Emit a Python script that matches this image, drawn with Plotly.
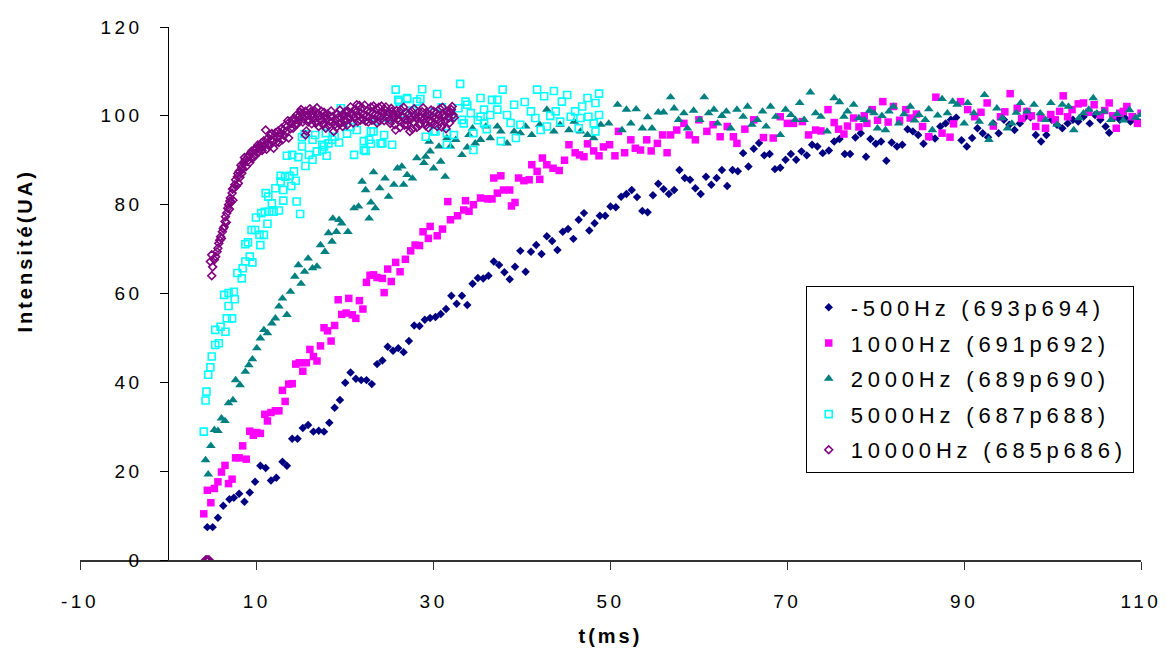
import plotly.graph_objects as go

# ---------------- data ----------------
names = ["-500Hz (693p694)", "1000Hz (691p692)", "2000Hz (689p690)",
         "5000Hz (687p688)", "10000Hz (685p686)"]

s500 = [(4.4,7.4),(5.0,7.4),(5.6,9.5),(6.2,12.2),(6.9,13.7),(7.4,14.0),(8.0,14.9),(8.6,13.1),(9.2,15.2),(9.8,17.6),
        (10.4,21.2),(11.0,20.7),(11.6,17.9),(12.2,18.5),(12.9,22.1),(13.4,21.2),(14.0,27.3),(14.6,27.3),(15.2,29.7),(15.8,30.4),
        (16.4,28.9),(17.0,29.1),(17.6,28.9),(18.2,30.9),(18.8,34.3),(19.4,36.0),(20.0,39.9),(20.6,42.2),(21.2,40.8),(21.8,40.5),
        (22.4,40.5),(23.0,39.6),(23.6,44.1),(24.2,44.9),(24.8,48.0),(25.4,47.1),(26.0,47.7),(26.6,46.8),(27.2,49.3),(27.8,52.8),
        (28.4,52.7),(29.0,54.1),(29.6,54.5),(30.2,54.7),(30.8,55.4),(31.4,56.5),(32.0,59.5),(32.6,57.7),(33.2,59.5),(33.8,57.4),
        (34.4,62.2),(35.0,63.5),(35.6,63.4),(36.2,64.0),(36.8,67.2),(37.4,66.4),(38.0,64.8),(38.6,63.2),(39.2,66.0),(39.8,69.6),
        (40.4,64.9),(41.0,69.4),(41.6,70.9),(42.2,68.9),(42.8,72.9),(43.4,71.8),(44.0,69.8),(44.6,73.9),(45.2,74.5),(45.8,72.3),
        (46.4,76.6),(47.0,78.1),(47.6,74.2),(48.2,75.8),(48.8,77.5),(49.4,77.5),(50.0,79.6),(50.6,79.4),(51.2,81.8),(51.8,82.4),
        (52.4,83.3),(53.0,81.7),(53.6,78.6),(54.2,78.3),(54.8,82.1),(55.4,84.7),(56.0,83.5),(56.6,82.4),(57.2,83.3),(57.8,87.8),
        (58.4,86.0),(59.0,85.6),(59.6,83.7),(60.2,82.4),(60.8,86.3),(61.4,84.5),(62.0,86.0),(62.6,87.8),(63.2,84.2),(63.8,87.8),
        (64.4,87.5),(65.0,91.6),(65.6,88.6),(66.2,92.6),(66.8,93.9),(67.4,91.1),(68.0,91.4),(68.6,88.0),(69.2,88.3),(69.8,90.1),
        (70.4,91.4),(71.0,90.1),(71.6,92.0),(72.2,91.1),(72.8,93.5),(73.4,93.1),(74.0,91.6),(74.7,92.2),(75.3,94.2),(75.9,94.8),
        (76.5,91.4),(77.1,91.4),(77.7,95.1),(78.3,96.1),(78.9,90.8),(79.4,94.8),(80.0,93.7),(80.6,94.2),(81.2,89.9),(81.8,94.0),
        (82.4,93.1),(83.0,93.5),(83.6,97.0),(84.2,96.5),(84.8,95.7),(85.4,93.7),(86.1,95.3),(86.7,94.9),(87.3,97.6),(87.9,98.3),
        (88.5,99.1),(89.1,99.6),(89.7,94.5),(90.3,93.1),(90.9,95.0),(91.5,97.2),(92.1,96.1),(92.7,95.2),(93.3,98.3),(93.9,96.1),
        (94.5,99.1),(95.1,98.0),(95.7,96.8),(96.3,98.3),(96.9,99.8),(97.5,99.7),(98.1,95.7),(98.7,94.2),(99.3,95.7),(99.9,99.1),
        (100.5,98.0),(101.1,97.2),(101.7,98.3),(102.3,99.1),(102.9,98.7),(103.5,99.8),(104.2,98.3),(104.8,100.2),(105.4,99.1),(106.0,97.6),
        (106.4,96.2),(107.0,99.7),(107.6,99.1),(108.2,99.5),(108.8,98.7),(109.4,99.1),(110.0,98.5)]

s1000 = [(4.0,10.4),(4.4,15.7),(4.8,12.9),(5.2,16.1),(5.6,17.6),(6.0,19.8),(6.4,21.3),(6.8,17.2),(7.2,18.2),(7.6,23.0),
         (8.0,23.0),(8.4,25.7),(8.8,22.7),(9.2,29.0),(9.6,28.1),(10.0,28.7),(10.4,28.5),(10.9,32.8),(11.2,31.3),(11.6,33.2),
         (12.1,33.6),(12.5,33.6),(12.9,38.2),(13.2,35.7),(13.6,39.6),(14.0,39.7),(14.4,44.1),(14.8,44.4),(15.2,42.5),(15.6,44.4),
         (16.0,47.4),(16.4,45.8),(16.8,44.8),(17.2,48.2),(17.6,52.3),(18.0,51.6),(18.4,49.3),(18.8,52.8),(19.2,58.6),(19.6,55.3),
         (20.1,55.6),(20.4,58.9),(20.8,55.2),(21.2,54.4),(21.6,58.4),(22.0,56.5),(22.4,62.5),(22.8,64.1),(23.2,64.2),(23.6,63.6),
         (24.2,63.4),(24.4,60.2),(24.8,65.5),(25.2,62.7),(25.7,67.0),(26.2,64.9),(26.8,67.7),(27.4,69.6),(27.9,70.9),(28.4,70.8),
         (28.8,73.9),(29.4,72.4),(29.6,75.1),(30.4,73.0),(31.0,74.5),(31.6,80.7),(31.9,76.6),(32.7,77.5),(33.4,78.8),(33.6,80.9),
         (34.0,78.5),(34.5,80.0),(35.3,81.5),(36.1,81.3),(36.6,81.3),(36.8,86.0),(37.2,82.6),(37.6,86.5),(37.9,83.3),(38.6,83.3),
         (38.8,79.7),(39.2,80.5),(39.6,86.0),(40.2,85.4),(40.8,85.6),(41.1,89.0),(41.7,87.5),(42.0,85.7),(42.3,90.5),(42.8,89.0),
         (43.5,88.2),(44.2,87.7),(44.8,90.0),(45.3,93.5),(46.0,91.7),(46.5,91.2),(47.0,90.8),(47.4,93.7),(48.1,92.1),(48.7,91.0),
         (49.2,93.0),(49.9,93.5),(50.5,91.0),(50.9,96.5),(51.6,91.7),(52.3,94.6),(52.8,92.7),(53.4,92.3),(54.1,94.6),(54.6,92.1),
         (55.3,93.8),(55.9,95.7),(56.4,91.7),(56.8,95.7),(57.5,96.8),(58.3,98.3),(58.9,95.7),(59.6,94.6),(60.0,99.1),(60.9,96.5),
         (61.6,98.0),(62.4,95.3),(63.2,97.6),(63.9,95.3),(64.3,93.8),(65.2,97.0),(66.2,99.1),(67.3,95.1),(68.4,95.0),(69.2,99.8),
         (70.0,98.3),(70.7,98.3),(71.7,98.7),(72.4,95.7),(73.2,96.8),(73.8,96.6),(74.6,101.4),(75.3,98.5),(75.8,97.0),(76.4,95.9),
         (76.8,97.7),(77.5,99.5),(78.1,97.5),(78.7,100.0),(79.0,98.3),(79.6,101.4),(80.2,99.0),(80.8,103.2),(81.4,98.6),(82.0,102.1),
         (82.7,99.0),(83.4,101.4),(83.9,99.5),(84.6,100.4),(85.3,97.6),(86.0,95.3),(86.8,104.2),(87.5,96.1),(88.4,95.2),(88.8,98.2),
         (89.6,103.2),(90.4,101.4),(91.2,99.8),(91.9,100.8),(92.6,102.9),(93.3,97.7),(94.1,99.8),(94.6,100.9),(95.2,105.0),(96.0,101.7),
         (96.5,99.4),(97.1,101.0),(97.6,100.0),(98.1,97.6),(98.7,99.5),(99.2,97.2),(99.8,100.3),(100.3,99.1),(100.8,101.0),(101.2,104.5),
         (101.7,99.8),(102.2,101.4),(102.9,102.7),(103.5,102.9),(104.1,100.8),(104.7,102.5),(105.4,100.2),(105.9,101.2),(106.4,102.9),(106.8,100.0),
         (107.2,97.2),(107.6,100.6),(108.0,101.0),(108.4,102.1),(109.0,99.8),(109.6,98.3),(110.0,100.6)]

s2000 = [(4.2,22.5),(4.5,19.3),(4.8,25.7),(5.2,29.3),(5.6,29.1),(6.0,31.9),(6.4,31.3),(6.8,35.3),(7.3,36.0),(7.6,40.5),
         (8.1,39.4),(8.7,42.4),(9.1,43.9),(9.5,45.2),(10.0,47.7),(10.4,49.9),(10.8,51.8),(11.2,51.1),(11.7,53.3),(12.1,54.4),
         (12.5,57.1),(12.9,58.9),(13.4,55.2),(13.8,60.4),(14.3,63.8),(14.7,66.4),(15.0,62.2),(15.4,64.9),(15.8,67.9),(16.3,65.7),
         (16.8,66.1),(17.2,70.9),(17.7,69.4),(18.1,73.6),(18.5,71.7),(18.6,76.9),(19.0,73.9),(19.3,76.6),(19.6,75.8),(20.3,73.9),
         (21.0,79.2),(21.5,79.6),(21.9,85.2),(22.3,83.3),(22.7,76.9),(22.9,80.5),(23.2,87.3),(23.4,79.2),(23.9,83.7),(24.5,85.9),
         (24.9,81.8),(25.5,84.5),(25.9,88.2),(26.4,88.6),(26.6,84.5),(27.0,86.7),(27.6,85.9),(28.1,90.5),(28.9,89.4),(29.1,90.8),
         (29.5,94.2),(29.6,92.0),(30.0,88.2),(30.6,93.1),(30.8,89.7),(31.3,86.3),(31.5,95.0),(31.9,93.1),(32.5,94.6),(33.2,91.2),
         (33.8,92.9),(34.0,95.7),(34.4,97.2),(34.7,93.8),(35.3,94.6),(35.9,97.6),(36.4,95.0),(37.2,97.6),(37.6,96.5),(38.3,93.8),
         (39.1,96.5),(39.8,96.1),(40.4,97.6),(41.1,95.7),(42.0,98.0),(42.8,101.4),(43.6,96.5),(44.3,98.0),(45.3,96.8),(45.9,98.7),
         (46.6,96.5),(47.4,95.7),(48.1,95.0),(48.9,98.0),(49.8,98.3),(50.8,102.5),(51.3,96.8),(51.8,101.4),(52.3,98.3),(52.9,101.5),
         (53.6,97.2),(54.2,99.7),(54.7,97.2),(55.4,100.8),(56.0,100.8),(56.8,104.2),(57.2,101.7),(57.7,99.1),(58.3,100.6),(58.7,97.2),
         (59.4,101.2),(60.1,99.1),(60.6,104.2),(61.1,100.6),(61.7,101.4),(62.1,98.3),(62.6,100.0),(63.1,101.0),(63.6,97.2),(64.3,101.4),
         (65.0,99.8),(65.5,102.1),(66.0,98.0),(66.6,99.1),(67.2,101.0),(67.6,97.6),(68.1,102.1),(68.7,99.8),(69.2,95.7),(69.8,101.4),
         (70.4,100.2),(70.9,99.1),(71.4,102.9),(71.9,99.1),(72.6,105.3),(73.2,100.6),(73.8,99.8),(74.5,96.5),(75.3,104.0),(75.9,103.1),
         (76.4,99.8),(76.8,101.0),(77.5,102.5),(78.1,99.5),(78.7,99.1),(79.3,101.2),(79.8,100.6),(80.2,97.2),(80.7,100.0),(81.1,96.8),
         (81.5,101.0),(82.0,102.1),(82.6,98.3),(83.2,100.4),(83.9,102.1),(84.4,99.0),(84.9,100.2),(85.6,99.1),(86.0,101.5),(86.4,96.8),
         (87.0,100.1),(87.5,103.8),(88.1,100.6),(88.7,103.2),(89.2,102.5),(90.0,98.3),(90.4,102.9),(91.1,100.6),(91.7,98.7),(92.3,104.7),
         (92.8,94.6),(93.2,98.3),(93.7,101.7),(94.3,99.5),(94.9,97.2),(95.4,98.3),(95.9,100.7),(96.4,102.9),(97.1,101.0),(97.9,102.5),
         (98.6,100.6),(99.2,99.1),(99.8,102.9),(100.5,98.0),(101.1,102.5),(101.8,102.1),(102.4,96.8),(103.0,99.5),(103.5,100.6),(104.1,101.4),
         (104.6,104.0),(105.0,100.6),(105.8,101.0),(106.6,99.1),(107.3,100.4),(108.0,99.0),(108.7,101.3),(109.4,99.6),(110.0,100.2)]

s5000 = [(4.0,28.9),(4.2,35.9),(4.3,37.9),(4.5,41.7),(4.75,43.4),(4.9,45.8),(5.3,48.4),(5.3,51.8),(5.7,48.8),(5.9,52.5),
         (6.3,59.7),(6.45,51.4),(6.6,54.4),(6.8,60.1),(6.8,57.2),(7.2,54.4),(7.4,60.4),(7.5,58.7),(7.8,64.6),(8.3,63.4),
         (8.4,65.7),(8.7,67.2),(8.7,71.1),(9.0,71.5),(9.2,68.3),(9.4,74.3),(9.5,67.0),(9.8,74.3),(9.9,77.1),(10.3,73.2),
         (10.4,70.9),(10.5,78.1),(10.8,73.2),(10.9,78.4),(11.0,82.6),(11.2,75.7),(11.3,81.8),(11.4,78.4),(11.7,80.3),(11.9,78.4),
         (12.1,83.7),(12.5,78.7),(12.7,85.2),(12.7,86.5),(13.0,83.3),(13.0,80.9),(13.2,86.3),(13.4,91.0),(13.7,86.5),(13.9,84.2),
         (14.0,91.2),(14.2,87.5),(14.4,85.4),(14.5,80.7),(14.7,90.7),(14.9,77.9),(15.1,93.1),(15.1,95.2),(15.4,95.9),(15.5,88.7),
         (15.9,91.2),(16.3,90.1),(16.3,94.6),(16.6,95.7),(16.8,92.0),(17.4,92.3),(17.4,93.5),(17.6,93.1),(17.8,96.1),(17.9,91.0),
         (18.1,93.8),(18.5,94.6),(18.8,95.3),(19.3,94.0),(19.5,101.7),(20.2,96.0),(20.6,97.5),(21.0,91.2),(21.3,96.8),(22.1,94.3),
         (22.1,92.3),(22.3,92.1),(22.7,94.6),(22.9,93.7),(22.9,96.5),(23.2,96.5),(23.6,98.9),(24.0,93.8),(24.2,93.8),(24.4,95.7),
         (24.8,99.5),(25.3,93.5),(25.7,105.9),(26.0,103.6),(26.1,103.2),(26.5,100.5),(27.0,104.0),(27.0,103.8),(27.6,101.2),(28.1,103.2),
         (28.5,103.8),(28.7,106.0),(29.1,95.3),(29.6,100.8),(30.0,96.5),(30.2,96.5),(30.4,104.9),(30.9,101.9),(31.5,96.1),(31.5,93.5),
         (32.0,99.6),(32.3,95.7),(32.8,101.7),(33.0,107.2),(33.2,99.1),(33.4,98.3),(33.6,103.2),(33.8,102.5),(34.2,100.6),(34.5,92.3),
         (34.5,96.1),(35.0,99.0),(35.3,99.8),(35.3,104.0),(35.7,98.3),(35.7,101.4),(36.0,97.0),(36.4,100.2),(36.6,103.6),(37.2,101.4),
         (37.2,103.6),(37.6,94.3),(37.8,105.9),(38.3,100.2),(38.7,98.4),(39.1,102.5),(39.3,95.0),(39.8,98.0),(40.3,103.1),(41.0,101.0),
         (41.5,99.5),(41.7,105.9),(42.1,96.8),(42.5,104.4),(42.8,97.6),(43.2,100.0),(43.6,105.6),(43.8,101.0),(44.3,98.7),(44.5,103.2),
         (45.1,104.7),(45.5,99.8),(46.0,101.0),(46.4,97.2),(46.6,99.5),(46.8,102.1),(47.4,104.0),(47.5,99.8),(48.1,98.3),(48.3,96.5),
         (48.3,102.9),(48.7,100.2),(48.7,105.0)]

s10000 = [(4.2,0.0),(4.3,0.0),(4.4,0.0),(4.5,0.0),(4.6,0.0),
          (4.9,64.0),(4.75,67.2),(4.9,68.7),(5.0,66.0),(5.2,67.6),(5.35,68.3),(5.5,69.4),(5.6,70.2),(5.7,71.3),(5.8,72.0),
          (5.9,72.8),(6.0,72.4),(6.1,73.9),(6.2,74.6),(6.3,75.0),(6.4,76.2),(6.45,77.3),(6.55,76.0),(6.6,78.1),(6.7,79.2),
          (6.8,80.0),(6.9,79.0),(6.95,80.8),(7.0,81.5),(7.1,80.6),(7.2,82.6),(7.25,83.5),(7.3,81.0),(7.4,83.7),(7.5,84.5),
          (7.6,85.6),(7.7,84.2),(7.8,86.3),(7.85,87.0),(7.9,84.8),(8.0,87.5),(8.1,86.2),(8.2,88.9),(8.3,87.1),(8.3,88.4),
          (8.4,88.0),(8.5,89.3),(8.6,90.6),(8.7,90.1),(8.8,88.6),(8.9,89.7),(9.0,90.7),(9.1,91.2),(9.2,89.5),(9.3,91.6),
          (9.4,92.0),(9.5,90.4),(9.6,90.8),(9.65,92.3),(9.8,91.0),(9.9,92.5),(10.0,92.7),(10.1,93.4),(10.2,91.8),(10.3,92.4),
          (10.4,93.1),(10.5,93.9),(10.6,92.2),(10.7,93.0),(10.8,94.4),(10.9,93.5),(11.0,96.8),(11.1,92.5),(11.2,94.8),(11.35,93.8),
          (11.4,93.2),(11.5,95.6),(11.6,94.6),(11.7,96.0),(11.8,94.2),(11.9,92.7),(12.0,95.4),(12.1,96.2),(12.2,94.0),(12.3,95.0),
          (12.4,96.6),(12.5,94.0),(12.6,95.4),(12.7,96.1),(12.8,97.2),(12.9,94.6),(13.0,96.8),(13.1,95.6),(13.2,97.9),(13.3,96.4),
          (13.4,97.6),(13.5,98.9),(13.6,95.0),(13.7,98.6),(13.8,97.1),(13.9,98.3),(14.0,99.0),(14.1,97.2),(14.2,99.5),(14.3,98.0),
          (14.4,99.1),(14.5,100.2),(14.6,98.2),(14.7,99.8),(14.8,99.0),(14.9,100.8),(15.0,101.4),(15.1,100.6),(15.2,98.6),(15.3,99.3),
          (15.4,100.2),(15.5,101.0),(15.5,95.7),(15.6,96.6),
          (15.7,100.2),(15.8,98.6),(15.9,99.0),(16.0,101.6),(16.1,100.9),(16.2,98.2),(16.3,99.6),(16.4,100.3),(16.5,101.2),(16.6,99.4),
          (16.7,98.4),(16.8,101.8),(16.9,100.5),(17.0,97.6),(17.1,99.2),(17.2,100.0),(17.3,101.0),(17.4,99.0),(17.5,98.0),(17.6,100.8),
          (17.7,100.1),(17.8,97.2),(17.9,99.4),(18.0,100.4),(18.1,97.8),(18.2,98.8),(18.3,99.9),(18.4,101.1),(18.5,98.6),(18.6,99.8),
          (18.7,96.5),(18.8,98.0),(18.9,99.1),(19.0,97.4),(19.1,100.4),(19.2,99.6),(19.3,98.2),(19.4,101.3),(19.5,99.6),(19.6,98.5),
          (19.7,97.6),(19.8,99.9),(19.9,100.2),(20.0,100.9),(20.1,98.9),(20.2,97.9),(20.3,101.0),(20.4,99.8),(20.5,99.3),(20.6,102.0),
          (20.7,100.7),(20.8,100.1),(20.9,98.4),(21.0,99.6),(21.1,101.5),(21.2,100.8),(21.3,102.5),(21.4,98.7),(21.5,100.0),(21.6,102.3),
          (21.7,99.0),(21.8,100.6),(21.9,101.8),(22.0,99.3),(22.1,100.3),(22.2,102.4),(22.3,98.8),(22.4,100.0),(22.5,101.1),(22.6,98.6),
          (22.7,99.6),(22.8,100.9),(22.9,102.0),(23.0,99.0),(23.1,100.6),(23.2,102.2),(23.3,99.2),(23.4,100.3),(23.5,101.6),(23.6,98.4),
          (23.7,100.1),(23.8,101.9),(23.9,98.9),(24.0,99.9),(24.1,102.2),(24.2,101.0),(24.3,100.4),(24.4,98.9),(24.5,101.3),(24.6,102.0),
          (24.7,99.5),(24.8,100.2),(24.9,100.8),(25.0,99.1),(25.1,98.3),(25.2,101.7),(25.3,101.0),(25.4,100.5),(25.5,99.8),(25.6,98.0),
          (25.7,96.8),(25.8,101.2),(25.9,100.3),(26.0,99.4),(26.1,98.9),(26.2,97.4),(26.3,101.4),(26.4,100.0),(26.5,99.6),(26.6,101.9),
          (26.7,97.9),(26.8,99.1),(26.9,100.7),(27.0,98.0),(27.1,99.0),(27.2,100.4),(27.3,96.5),(27.4,99.2),(27.5,101.1),(27.6,97.0),
          (27.7,98.6),(27.8,101.6),(27.9,100.2),(28.0,99.5),(28.1,97.4),(28.2,100.7),(28.3,99.8),(28.4,97.9),(28.5,98.2),(28.6,99.7),
          (28.7,100.9),(28.8,101.8),(28.9,99.3),(29.0,98.4),(29.1,97.8),(29.2,99.9),(29.3,100.5),(29.4,97.3),(29.5,98.9),(29.6,100.2),
          (29.7,101.3),(29.8,98.7),(29.9,99.7),(30.0,101.0),(30.1,98.1),(30.2,99.4),(30.3,100.6),(30.4,97.6),(30.5,99.2),(30.6,100.1),
          (30.7,101.6),(30.8,98.6),(30.9,97.5),(31.0,101.9),(31.1,100.3),(31.2,99.8),(31.3,98.8),(31.4,97.1),(31.5,101.0),(31.6,100.6),
          (31.7,99.5),(31.8,98.4),(31.9,100.8),(32.0,101.4),(32.1,102.1),(32.2,100.2),(32.3,99.6)]

x_ticks = [-10, 10, 30, 50, 70, 90, 110]
y_ticks = [0, 20, 40, 60, 80, 100, 120]

# ---------------- styles ----------------
FONT = "Liberation Sans, Arial, Helvetica, sans-serif"
styles = [
    dict(symbol="diamond", size=6.5, color="#000080"),
    dict(symbol="square", size=7.5, color="#FF00FF"),
    dict(symbol="triangle-up", size=8.5, color="#008080"),
    dict(symbol="square-open", size=7, color="#00FFFF", line=dict(width=1.6, color="#00FFFF")),
    dict(symbol="diamond-open", size=6, color="#800080", line=dict(width=1.6, color="#800080")),
]

fig = go.Figure()
for name, series, st in zip(names, [s500, s1000, s2000, s5000, s10000], styles):
    xs = [p[0] for p in series]
    ys = [p[1] for p in series]
    mk = dict(st)
    if "line" not in mk:
        mk["line"] = dict(width=0)
    fig.add_trace(go.Scatter(x=xs, y=ys, mode="markers", name=name,
                             legendgroup=name, marker=mk))

fig.update_layout(
    width=1166, height=649,
    margin=dict(l=80, r=25, t=27, b=89, autoexpand=False),
    paper_bgcolor="white", plot_bgcolor="white",
    font=dict(family=FONT, color="black"),
    showlegend=True,
    legend=dict(x=0.684, y=0.515, xanchor="left", yanchor="top",
                bgcolor="white", bordercolor="black", borderwidth=1,
                font=dict(family=FONT, size=22, color="black"),
                tracegroupgap=4, itemwidth=34),
    xaxis=dict(range=[-10, 110], tickmode="array", tickvals=x_ticks,
               ticktext=[str(v) for v in x_ticks], automargin=False,
               showgrid=False, zeroline=False, showline=True,
               linecolor="#333333", linewidth=1.5,
               ticks="outside", ticklen=8, tickcolor="#333333", tickwidth=1,
               tickfont=dict(family=FONT, size=19, color="black"),
               ticklabelstandoff=16),
    yaxis=dict(range=[0, 120], tickmode="array", tickvals=y_ticks,
               ticktext=[str(v) for v in y_ticks], automargin=False,
               anchor="free", position=10/120,
               showgrid=False, zeroline=False, showline=True,
               linecolor="black", linewidth=1,
               ticks="outside", ticklen=8, tickcolor="black", tickwidth=1,
               tickfont=dict(family=FONT, size=19, color="black"),
               ticklabelstandoff=14),
    annotations=[
        dict(text="<b>t(ms)</b>", xref="paper", yref="paper", x=0.5, y=-0.1426,
             xanchor="center", yanchor="middle", showarrow=False,
             font=dict(family=FONT, size=20, color="black")),
        dict(text="<b>Intensité(UA)</b>", xref="paper", yref="paper", x=-0.0518, y=0.5797,
             xanchor="center", yanchor="middle", showarrow=False, textangle=-90,
             font=dict(family=FONT, size=20, color="black")),
    ],
)

# Remove the page's default body margin so the figure sits at the window origin,
# and emulate the wide letter spacing of the original (Excel) text; the legend
# then re-measures its entries.
post = """
document.body.style.margin = '0';
document.body.style.overflow = 'hidden';
var gd = document.getElementById('{plot_id}');
var st = document.createElement('style');
st.textContent = '.legendtext{letter-spacing:4.8px;} .xtick text,.ytick text{letter-spacing:3.5px;} .annotation-text{letter-spacing:3px;}';
document.head.appendChild(st);
Plotly.relayout(gd, {'legend.font.size': 22.001});
"""

fig.write_html("out.html", post_script=post,
               config={"displayModeBar": False, "staticPlot": True})
